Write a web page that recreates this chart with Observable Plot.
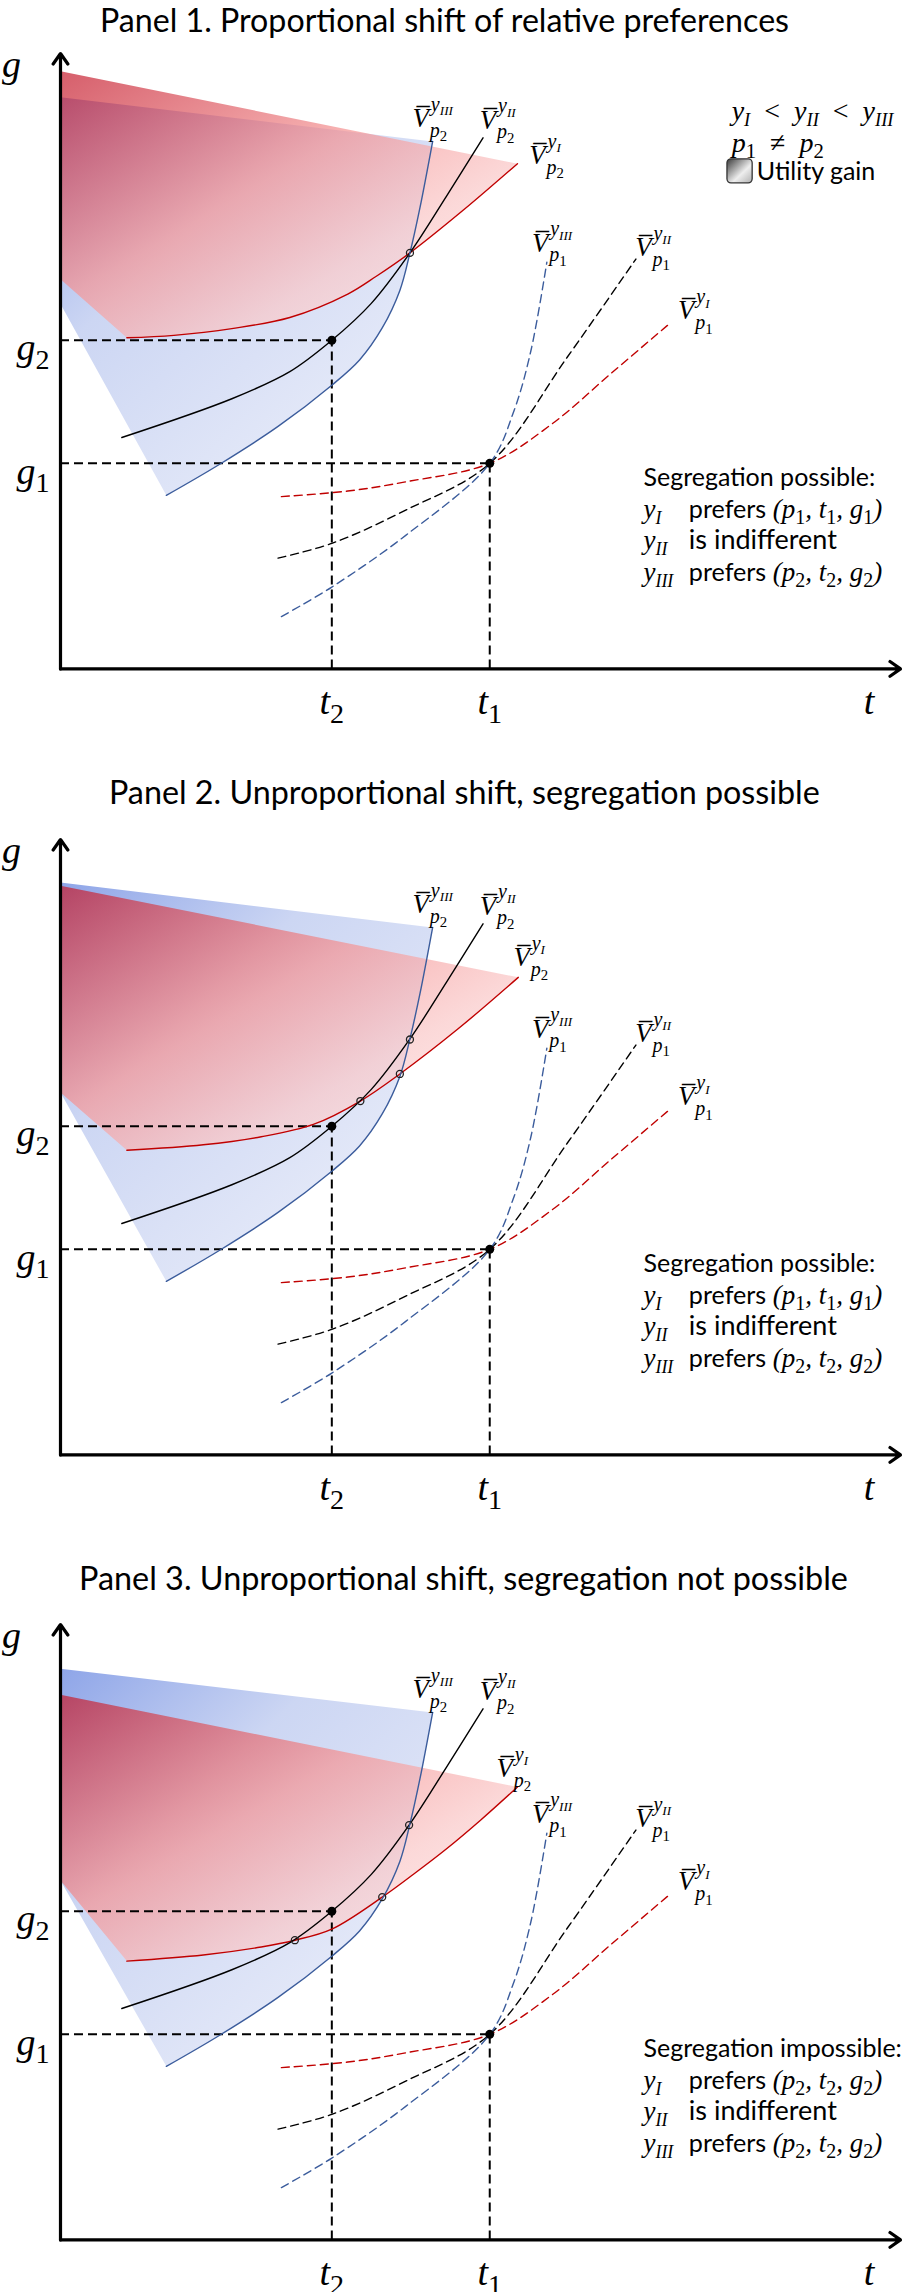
<!DOCTYPE html>
<html><head><meta charset="utf-8">
<script src="https://cdn.jsdelivr.net/npm/d3@7"></script>
<script src="https://cdn.jsdelivr.net/npm/@observablehq/plot@0.6"></script>
<style>
body{margin:0;background:#fff;}
#page{position:relative;width:903px;height:2292px;overflow:hidden;background:#fff;}
.title{position:absolute;white-space:nowrap;font-family:Lato,'Open Sans',sans-serif;color:#000;line-height:1;}
.panel{position:absolute;left:0;}
</style></head>
<body><div id="page"></div>
<script>
// ---------------- data ----------------
const titles = [
  "Panel 1. Proportional shift of relative preferences",
  "Panel 2. Unproportional shift, segregation possible",
  "Panel 3. Unproportional shift, segregation not possible"
];
const t1 = 51.1, t2 = 32.3, g1 = 33.4, g2 = 53.4;
const eqT = [t2, t1], eqG = [g2, g1], eqSub = ["2", "1"];

// V̄_{p1} indifference curves (dashed) - identical in every panel
const p1YI_t   = [26.3, 34.2, 41.1, 51.1, 58.5, 65.7, 72.5];
const p1YI_g   = [28.0, 28.9, 30.4, 33.4, 39.8, 48.2, 56.1];
const p1YII_t  = [25.9, 32.3, 41.1, 51.1, 60.3, 68.5];
const p1YII_g  = [18.0, 20.4, 25.8, 33.4, 50.6, 66.6];
const p1YIII_t = [26.3, 32.3, 41.1, 51.1, 54.0, 56.0, 57.9];
const p1YIII_g = [8.5, 13.3, 21.7, 33.4, 42.0, 51.7, 66.1];

// V̄_{p2} indifference curves (solid)
const p2YII_t  = [7.3, 20.4, 27.3, 32.3, 37.0, 41.6, 45.9, 50.3];
const p2YII_g  = [37.6, 43.9, 48.3, 53.4, 59.4, 67.6, 76.7, 86.3];
const p2YIII_t = [12.6, 19.0, 25.9, 32.3, 35.6, 38.3, 40.4, 41.6, 42.8, 44.3];
const p2YIII_g = [28.2, 33.3, 39.4, 46.1, 50.2, 55.4, 61.5, 67.6, 75.0, 85.7];
const p2YI_t = [
  [7.9, 13.5, 20.4, 27.3, 34.2, 37.6, 41.6, 48.0, 54.4],
  [7.9, 17.0, 23.9, 30.1, 35.7, 40.4, 47.3, 54.5],
  [7.9, 17.0, 23.9, 27.9, 32.3, 38.3, 42.1, 46.0, 50.0, 54.4]
];
const p2YI_g = [
  [53.8, 54.2, 55.3, 57.1, 60.9, 63.8, 67.6, 74.6, 82.1],
  [49.5, 50.4, 51.7, 53.7, 57.5, 61.9, 69.2, 77.6],
  [45.3, 46.3, 47.6, 48.7, 50.5, 55.7, 59.5, 63.6, 68.2, 73.6]
];

// utility-gain regions
const redCornerG  = [63.3, 58.9, 58.4];
const blueCornerG = [59.3, 58.9, 58.4];
const blueTopG = [92.9, 93.0, 92.8];
const redTopG  = [97.1, 92.5, 88.6];

// intersections (open circles)
const crossT = [[41.6], [41.6, 40.4, 35.7], [41.5, 38.3, 27.9]];
const crossG = [[67.6], [67.5, 61.9, 57.5], [67.4, 55.7, 48.7]];

// curve labels
const labelY = ["III", "II", "I", "III", "II", "I"];
const labelP = ["2", "2", "2", "1", "1", "1"];
const labelT = [[42.9, 50.9, 56.8, 57.1, 69.4, 74.5], [42.9, 50.9, 54.9, 57.1, 69.4, 74.5], [42.9, 50.9, 52.9, 57.1, 69.4, 74.5]];
const labelG = [[89.5, 89.2, 83.4, 69.2, 68.5, 58.2], [89.5, 89.2, 80.8, 69.2, 68.5, 58.2], [89.5, 89.2, 76.6, 69.2, 68.5, 58.2]];

// texts
const verdictHead = ["Segregation possible:", "Segregation possible:", "Segregation impossible:"];
const verdictYI = ["prefers [(p]_{1}[, t]_{1}[, g]_{1}[)]", "prefers [(p]_{1}[, t]_{1}[, g]_{1}[)]", "prefers [(p]_{2}[, t]_{2}[, g]_{2}[)]"];
const verdictYII = "is indifferent";
const verdictYIII = "prefers [(p]_{2}[, t]_{2}[, g]_{2}[)]";
const orderText = "[y]_{I}{  <  }[y]_{II}{  <  }[y]_{III}";
const priceText = "[p]_{1}{  ≠  }[p]_{2}";
const legendText = "Utility gain";

// ---------------- rendering ----------------
const NS = "http://www.w3.org/2000/svg";
const MATH = "'Liberation Serif','DejaVu Serif',serif";
const SANS = "Lato,'Open Sans',sans-serif";
const RED = "#c00000", BLUE = "#3b5c9c", BLACK = "#000";
const zip = (ts, gs) => ts.map((t, k) => ({t, g: gs[k]}));

function regionCurve(k) {
  return (context) => {
    let pts = [];
    return {
      areaStart() {}, areaEnd() {},
      lineStart() { pts = []; },
      point(x, y) { pts.push([+x, +y]); },
      lineEnd() {
        if (!pts.length) return;
        context.moveTo(pts[0][0], pts[0][1]);
        for (let j = 1; j < k; j++) context.lineTo(pts[j][0], pts[j][1]);
        let first = true;
        const proxy = {
          moveTo(x, y) { if (first) { first = false; context.lineTo(x, y); } else context.moveTo(x, y); },
          lineTo(x, y) { context.lineTo(x, y); },
          bezierCurveTo(a, b, c, d, e, f) { context.bezierCurveTo(a, b, c, d, e, f); },
          closePath() {}
        };
        const c = d3.curveCatmullRom.alpha(0.5)(proxy);
        c.lineStart();
        for (let j = k; j < pts.length; j++) c.point(pts[j][0], pts[j][1]);
        c.lineEnd();
        context.closePath();
      }
    };
  };
}

function defsMark(i) {
  return () => {
    const d = document.createElementNS(NS, "defs");
    d.innerHTML = `
      <linearGradient id="redGrad${i}" x1="0" y1="0" x2="1" y2="1">
        <stop offset="0" stop-color="#c41a2c"/>
        <stop offset="0.43" stop-color="#f59494"/>
        <stop offset="0.68" stop-color="#fac8c8"/>
        <stop offset="1" stop-color="#fff0f0"/>
      </linearGradient>
      <linearGradient id="blueGrad${i}" x1="0" y1="0" x2="0.7" y2="0.8">
        <stop offset="0" stop-color="#8ea5e8"/>
        <stop offset="0.45" stop-color="#ccd6f3"/>
        <stop offset="1" stop-color="#e3e8f8"/>
      </linearGradient>
      <linearGradient id="grayGrad${i}" x1="0" y1="0" x2="1" y2="1">
        <stop offset="0" stop-color="#3a3a3a"/>
        <stop offset="0.6" stop-color="#eeeeee"/>
        <stop offset="1" stop-color="#b0b0b0"/>
      </linearGradient>`;
    return d;
  };
}

// mini markup: [..] math italic, {..} math upright, _{..} subscript, ^{..} superscript, rest sans
function richify(svg) {
  svg.querySelectorAll("text").forEach((el) => {
    const s = el.textContent;
    if (!/[\[_^{]/.test(s)) return;
    const host = el.closest("[font-size]");
    const base = host ? parseFloat(host.getAttribute("font-size")) : 16;
    while (el.firstChild) el.removeChild(el.firstChild);
    el.style.whiteSpace = "pre";
    const re = /\[([^\]]*)\]|_\{([^}]*)\}|\^\{([^}]*)\}|\{([^}]*)\}|([^\[_^{]+)/g;
    let m, shift = 0;
    while ((m = re.exec(s))) {
      const ts = document.createElementNS(NS, "tspan");
      let text, fam = MATH, style = "italic", size = base, target = 0;
      if (m[1] !== undefined) text = m[1];
      else if (m[2] !== undefined) {
        text = m[2];
        const digit = /^\d+$/.test(text);
        size = base * (digit ? 0.74 : 0.66);
        target = base * 0.22;
        if (digit) style = "normal";
      }
      else if (m[3] !== undefined) { text = m[3]; size = base * 0.68; target = -base * 0.42; }
      else if (m[4] !== undefined) { text = m[4]; style = "normal"; }
      else { text = m[5]; fam = SANS; style = "normal"; size = base * 0.93; }
      ts.setAttribute("font-family", fam);
      ts.setAttribute("font-style", style);
      ts.setAttribute("font-size", size);
      if (target !== shift) ts.setAttribute("dy", target - shift);
      shift = target;
      ts.textContent = text;
      el.appendChild(ts);
    }
  });
}

function panel(i) {
  const red = zip(p2YI_t[i], p2YI_g[i]);
  const black = zip(p2YII_t, p2YII_g);
  const blue = zip(p2YIII_t, p2YIII_g);
  const blueRegion = [{t: 0, g: blueTopG[i]}, {t: 0, g: blueCornerG[i]}, ...blue];
  const redRegion = [{t: 0, g: redTopG[i]}, {t: 0, g: redCornerG[i]}, ...red];
  const eq = zip(eqT, eqG).map((d, k) => ({...d, sub: eqSub[k]}));
  const cross = zip(crossT[i], crossG[i]);
  const labels = labelY.map((y, k) => ({y, p: labelP[k], t: labelT[i][k], g: labelG[i][k]}));
  const xy = {x: "t", y: "g"};
  const dash = {strokeDasharray: "8,5", strokeWidth: 1.4, curve: "catmull-rom"};
  const solid = {strokeWidth: 1.4, curve: "catmull-rom"};
  const rows = [25.9, 20.9, 15.7];
  const marks = [
    defsMark(i),
    Plot.line(blueRegion, {...xy, fill: `url(#blueGrad${i})`, stroke: "none", curve: regionCurve(2)}),
    Plot.line(redRegion, {...xy, fill: `url(#redGrad${i})`, fillOpacity: 0.7, stroke: "none", curve: regionCurve(2)}),
    Plot.ruleY(eq, {y: "g", x1: 0, x2: "t", stroke: BLACK, strokeWidth: 2, strokeDasharray: "9,5"}),
    Plot.ruleX(eq, {x: "t", y1: 0, y2: "g", stroke: BLACK, strokeWidth: 2, strokeDasharray: "9,5"}),
    Plot.line(zip(p1YI_t, p1YI_g), {...xy, ...dash, stroke: RED}),
    Plot.line(zip(p1YII_t, p1YII_g), {...xy, ...dash, stroke: BLACK}),
    Plot.line(zip(p1YIII_t, p1YIII_g), {...xy, ...dash, stroke: BLUE}),
    Plot.line(red, {...xy, ...solid, stroke: RED}),
    Plot.line(black, {...xy, ...solid, stroke: BLACK}),
    Plot.line(blue, {...xy, ...solid, stroke: BLUE}),
    Plot.arrow([0], {x1: 0, y1: 0, x2: 0, y2: 100, stroke: BLACK, strokeWidth: 3.2, headLength: 6, headAngle: 70}),
    Plot.arrow([0], {x1: 0, y1: 0, x2: 100, y2: 0, stroke: BLACK, strokeWidth: 3.2, headLength: 6, headAngle: 70}),
    Plot.dot(cross, {...xy, r: 3.5, stroke: "#222", strokeWidth: 1.3, fill: "none"}),
    Plot.dot(eq, {...xy, r: 4.5, fill: BLACK, stroke: "none"}),
    // axis names and tick labels
    Plot.text(["[g]"], {x: 0, y: 98.1, dx: -49, text: (d) => d, fontSize: 38, fontFamily: MATH, textAnchor: "middle", lineAnchor: "middle"}),
    Plot.text(["[t]"], {x: 96.25, y: -5.4, text: (d) => d, fontSize: 38, fontFamily: MATH, textAnchor: "middle", lineAnchor: "middle"}),
    Plot.text(eq, {x: "t", y: -5.4, text: (d) => `[t]_{${d.sub}}`, fontSize: 38, fontFamily: MATH, textAnchor: "middle", lineAnchor: "middle"}),
    Plot.text(eq, {x: 0, y: "g", dx: -11, dy: 8, text: (d) => `[g]_{${d.sub}}`, fontSize: 38, fontFamily: MATH, textAnchor: "end", lineAnchor: "middle"}),
    // curve labels
    Plot.text(labels, {...xy, text: () => "[V\u0305]", fontSize: 27, fontFamily: MATH, textAnchor: "middle", lineAnchor: "middle"}),
    Plot.text(labels, {...xy, text: (d) => `[y]_{${d.y}}`, dx: 10, dy: -14, fontSize: 20, fontFamily: MATH, textAnchor: "start", lineAnchor: "middle"}),
    Plot.text(labels, {...xy, text: (d) => `[p]_{${d.p}}`, dx: 9, dy: 12, fontSize: 20, fontFamily: MATH, textAnchor: "start", lineAnchor: "middle"}),
    // verdict block
    Plot.text([verdictHead[i]], {x: 69.4, y: 31.1, text: (d) => d, fontSize: 25, fontFamily: SANS, textAnchor: "start", lineAnchor: "middle"}),
    Plot.text(["[y]_{I}", "[y]_{II}", "[y]_{III}"], {x: 69.4, y: rows, text: (d) => d, fontSize: 27, fontFamily: MATH, textAnchor: "start", lineAnchor: "middle"}),
    Plot.text([verdictYI[i], verdictYII, verdictYIII], {x: 74.8, y: rows, text: (d) => d, fontSize: 27, fontFamily: SANS, textAnchor: "start", lineAnchor: "middle"})
  ];
  if (i === 0) {
    marks.push(
      Plot.text([orderText, priceText], {x: 79.9, y: [90.6, 85.4], text: (d) => d, fontSize: 28, fontFamily: MATH, textAnchor: "start", lineAnchor: "middle"}),
      Plot.rect([legendText], {x1: 79.4, x2: 82.4, y1: 78.9, y2: 82.8, rx: 4, fill: `url(#grayGrad${i})`, stroke: "#333", strokeWidth: 1.3}),
      Plot.text([legendText], {x: 82.9, y: 80.7, text: (d) => d, fontSize: 25, fontFamily: SANS, textAnchor: "start", lineAnchor: "middle"})
    );
  }
  const svg = Plot.plot({
    width: 903, height: 745,
    marginLeft: 60, marginRight: 3, marginTop: 13, marginBottom: 116.6,
    x: {domain: [0, 100], axis: null},
    y: {domain: [0, 100], axis: null},
    style: {background: "none", overflow: "visible", color: "black"},
    marks
  });
  richify(svg);
  return svg;
}

const page = document.getElementById("page");
const panelTop = [0, 785.5, 1571];
const titleLeft = [100, 109, 79], titleWidth = [690, 711, 769], titleBase = [33, 805, 1591];
const ctx = document.createElement("canvas").getContext("2d");
ctx.font = "100px Lato";
titles.forEach((txt, i) => {
  const fs = 100 * titleWidth[i] / ctx.measureText(txt).width;
  const div = document.createElement("div");
  div.className = "title";
  div.textContent = txt;
  div.style.fontSize = fs + "px";
  div.style.left = titleLeft[i] + "px";
  div.style.top = (titleBase[i] - 0.887 * fs) + "px";
  page.appendChild(div);
  const svg = panel(i);
  svg.classList.add("panel");
  svg.style.position = "absolute";
  svg.style.top = (panelTop[i] + 40) + "px";
  svg.style.left = "0px";
  page.appendChild(svg);
});
</script>
</body></html>
